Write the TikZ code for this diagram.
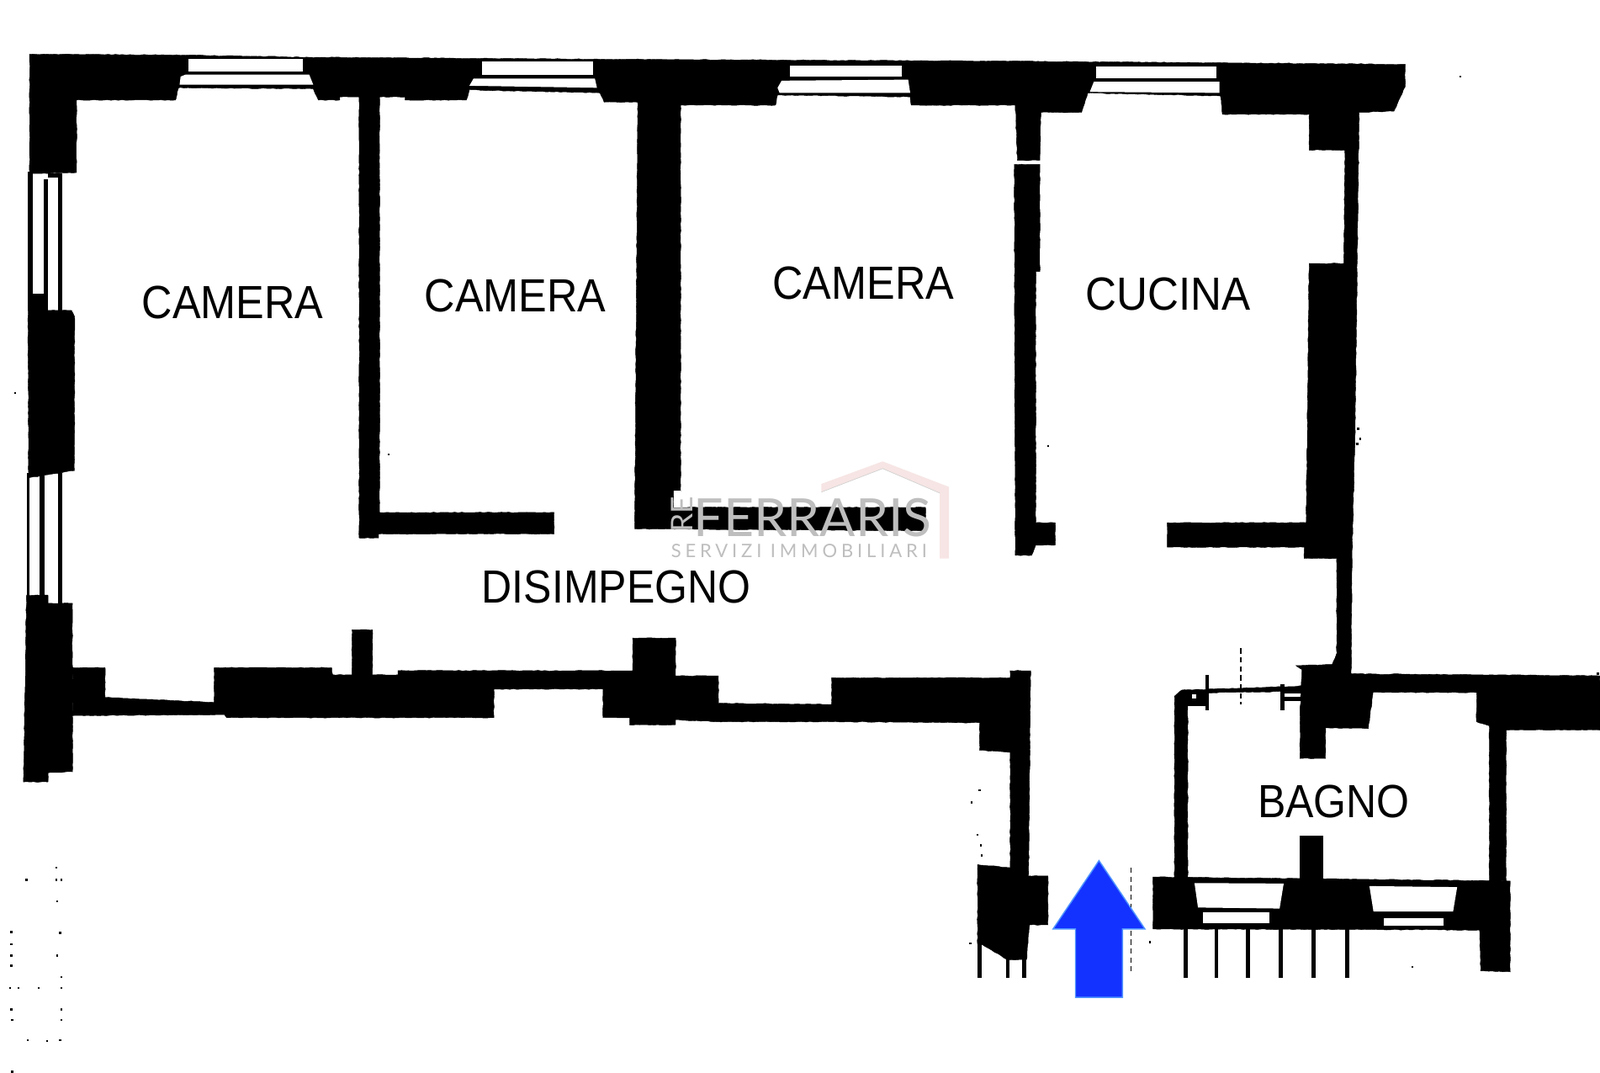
\documentclass[tikz,border=0pt]{standalone}
\usepackage{fontspec}
\setmainfont{Liberation Sans}
\newfontfamily\logofont{Lato}
\newfontfamily\logospaced[LetterSpace=22]{Lato}
\usetikzlibrary{decorations.pathmorphing}
\definecolor{arrowblue}{RGB}{20,50,255}
\definecolor{arrowedge}{RGB}{80,150,255}
\definecolor{housepink}{RGB}{246,229,228}
\definecolor{logogray}{RGB}{190,190,190}
\tikzset{
  rough/.style={fill=black,draw=black,line width=0.6pt,decorate,decoration={random steps,segment length=6pt,amplitude=0.6pt}},
  crisp/.style={fill=black},
  pane/.style={fill=white},
  roomlabel/.style={font=\fontsize{77.8}{80}\selectfont,inner sep=0pt,transform shape,text=black},
  dashline/.style={draw=black,line width=1.6pt,dash pattern=on 9pt off 6pt}
}
\begin{document}
\begin{tikzpicture}[x=0.06cm,y=-0.06cm]
\useasboundingbox (0,0) rectangle (1568,1050.3);
\fill[white] (0,0) rectangle (1568,1050.3);

% main top band, partitions and right wall
\path[rough] (29,53)--(182,54)--(300,56)--(590,58)--(1000,60)--(1377,63)--(1377,85)--(1366,109)--(1332,110)--(1330,258)--(1328,420)--(1325,547)--(1324,665)--(1310,665)--(1310,547)--(1278,547)--(1278,536)--(1144,536)--(1144,512)--(1280,512)--(1283,258)--(1317,258)--(1318,147)--(1283,147)--(1283,112)--(1198,112)--(1196,94)--(1066,91)--(1060,110)--(1020,110)--(1019,157)--(997,157)--(995,103)--(893,103)--(892,95)--(762,93)--(760,103)--(667,103)--(667,481)--(660,481)--(660,497)--(907,497)--(907,520)--(622,518)--(625,100)--(592,100)--(588,91)--(460,88)--(457,98)--(397,98)--(397,95)--(372,95)--(372,502)--(543,502)--(543,523)--(371,523)--(371,527)--(352,527)--(352,95)--(333,95)--(333,98)--(312,98)--(307,87)--(175,86)--(172,98)--(75,98)--(75,169)--(29,170)--cycle;

% windows of the top wall
\fill[pane] (185,58) rectangle (297,70);
\fill[pane] (177,75)--(182,73)--(303,73)--(307,83)--(176,83)--cycle;
\fill[pane] (472,60) rectangle (581,73);
\fill[pane] (460,84)--(464,77)--(583,77)--(585,86)--cycle;
\fill[pane] (774,64) rectangle (884,75);
\fill[pane] (762,86)--(766,79)--(890,78)--(892,91)--(764,91)--cycle;
\fill[pane] (1074,65) rectangle (1192,77);
\fill[pane] (1068,90)--(1072,80)--(1195,80)--(1195,91)--cycle;

% partition with gap
\path[rough] (994,161)--(1019,161)--(1019,266)--(1015,266)--(1015,512)--(1034,512)--(1034,534)--(1015,534)--(1011,544)--(995,544)--cycle;

% left wall with windows
\fill[crisp] (27.5,168) rectangle (32.5,304);
\fill[crisp] (43,176) rectangle (47,304);
\fill[crisp] (57,172) rectangle (61,304);
\fill[crisp] (27.5,288) rectangle (47,304);
\fill[crisp] (47,170) rectangle (61,174);
\path[rough] (27.5,304)--(70,304)--(73,310)--(73,461)--(47,465)--(28,468)--cycle;
\fill[crisp] (26,463) rectangle (29,592);
\fill[crisp] (39,463) rectangle (43.5,592);
\fill[crisp] (57,463) rectangle (61,592);
\path[rough] (26,583)--(47,583)--(47,591)--(71,591)--(71,756)--(47,757)--(47,766)--(23,766)--cycle;

% lower corridor wall
\path[rough] (71,654)--(103,654)--(103,683)--(210,688)--(210,654)--(325,654)--(326,661)--(345,661)--(345,617)--(365,617)--(365,661)--(390,661)--(390,657)--(620,657)--(620,625)--(662,625)--(662,662)--(704,662)--(704,689)--(815,690)--(815,664)--(990,664)--(990,657)--(1010,657)--(1008,858)--(1027,858)--(1027,906)--(1009,906)--(1006,940)--(987,940)--(962,925)--(958,925)--(958,847)--(990,850)--(990,737)--(960,735)--(960,708)--(815,707)--(704,707)--(662,705)--(662,710)--(617,710)--(617,703)--(591,703)--(591,675)--(484,675)--(484,703)--(222,703)--(220,700)--(71,701)--cycle;
\fill[crisp] (957.6,920) rectangle (962,958);
\fill[crisp] (986,935) rectangle (989,958);
\fill[crisp] (1002,935) rectangle (1006,958);

% bathroom block and wall to the right
\path[rough] (1276,656)--(1270,652)--(1305.5,651)--(1310,640)--(1324,640)--(1324,660)--(1568,662)--(1568,715)--(1476,715)--(1476,863)--(1459.5,863)--(1459.5,711)--(1447,707)--(1447,678.5)--(1345.6,678)--(1341,713.6)--(1299,713)--(1299,743)--(1274,743)--(1274,700)--cycle;
% bathroom outer wall
\path[rough] (1151,682)--(1158,676)--(1276,672)--(1276,677)--(1164,679)--(1164,862)--(1151,862)--cycle;
\fill[crisp] (1162,676)--(1185,676)--(1185,692)--(1162,692)--cycle;
\fill[pane] (1168,680) rectangle (1172,684);
\fill[crisp] (1181,661) rectangle (1185,696);
\fill[crisp] (1255,670) rectangle (1259,696);
\fill[crisp] (1259,675) rectangle (1276,679);
\fill[crisp] (1259,683) rectangle (1276,687);
\fill[crisp] (1274,819) rectangle (1297,862);

% bathroom lower band
\path[rough] (1130,859)--(1480,863)--(1480,952)--(1451,951)--(1450,911)--(1130,910)--cycle;
\fill[pane] (1170.6,865)--(1258,865.5)--(1254,890)--(1174,889)--cycle;
\fill[pane] (1179,893.5) rectangle (1244,904);
\fill[pane] (1342,868)--(1428,869)--(1424,893)--(1346,893)--cycle;
\fill[pane] (1356,899) rectangle (1415,907);
\foreach \lx in {1160,1190,1221,1253,1285,1318}{
  \fill[crisp] (\lx,908) rectangle (\lx+4,958);
}

% dashed construction lines
\draw[dashline] (1108.6,850)--(1108.6,951);
\draw[dashline] (1216,635)--(1216,690);

% specks
\foreach \sx/\sy in {55/850,26/862,55/862,60/862,56/883,11/913,59/914,11/925,11/936,56/936,11/946,60/957,10/968,18/968,38/968,60/968,11/989,60/989,12/999,60/999,27/1019,46/1020,59/1019,12/1050,15/385,1431/75,381/445,1027/437,960/774,952/786,958/818,961/828,962/838,951/924,1127/923,1384/947,1331/420,1333/430,1330/435,1566/660}{
  \fill[black] (\sx-1,\sy-1) rectangle (\sx+1,\sy+1);
}

% watermark
\fill[housepink] (805,474)--(865,452)--(930,477)--(930,547)--(921,547)--(921,483)--(865,459)--(805,482)--cycle;
\draw[logogray!70,line width=1pt] (805,482)--(865,459)--(921,483);
\fill[white] (660,481) rectangle (667,497);
\node (brandprefix) at (668,504) [rotate=90,inner sep=0pt,text=logogray,font={\logofont\fontsize{50}{52}\selectfont}] {RE};
\node (brandname) at (796.5,507) [inner sep=0pt,text=logogray,font={\logofont\fontsize{88}{90}\selectfont},xscale=1.0,transform shape] {FERRARIS};
\node (brandtag) at (783,540) [inner sep=0pt,text=logogray,font={\logospaced\fontsize{31}{33}\selectfont}] {SERVIZI IMMOBILIARI};

% room labels
\node[roomlabel,xscale=0.912] (room1) at (228,296) {CAMERA};
\node[roomlabel,xscale=0.912] (room2) at (505,290) {CAMERA};
\node[roomlabel,xscale=0.912] (room3) at (846,277) {CAMERA};
\node[roomlabel,xscale=0.925] (kitchen) at (1145,288) {CUCINA};
\node[roomlabel,xscale=0.905] (hall) at (604,575) {DISIMPEGNO};
\node[roomlabel,xscale=0.905] (bath) at (1307,785) {BAGNO};

% entrance arrow
\fill[arrowblue,draw=arrowedge,line width=2pt] (1077,843)--(1122,910)--(1100,910)--(1100,977)--(1054,977)--(1054,910)--(1032,910)--cycle;
\end{tikzpicture}
\end{document}
